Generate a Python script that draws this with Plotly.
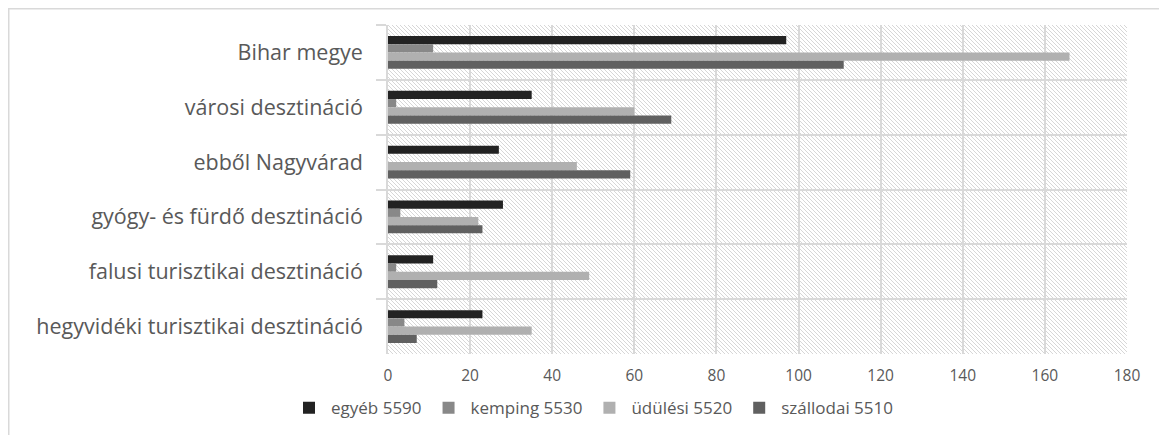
import base64
import plotly.graph_objects as go

categories = [
    "Bihar megye",
    "városi desztináció",
    "ebből Nagyvárad",
    "gyógy- és fürdő desztináció",
    "falusi turisztikai desztináció",
    "hegyvidéki turisztikai desztináció",
]
series_names = ["egyéb 5590", "kemping 5530", "üdülési 5520", "szállodai 5510"]
egyeb = [97, 35, 27, 28, 11, 23]
kemping = [11, 2, 0, 3, 2, 4]
udulesi = [166, 60, 46, 22, 49, 35]
szallodai = [111, 69, 59, 23, 12, 7]
x_ticks = [0, 20, 40, 60, 80, 100, 120, 140, 160, 180]

series_values = [egyeb, kemping, udulesi, szallodai]
colors = ["#222222", "#888888", "#b0b0b0", "#606060"]

# page body has an 8px margin; figure is sized to fit the window
W, H = 1159, 427
ML, MR, MT, MB = 380, 40, 17, 81
PW, PH = W - ML - MR, H - MT - MB

fig = go.Figure()
for name, vals, col in zip(series_names, series_values, colors):
    fig.add_trace(go.Bar(
        y=categories, x=vals, name=name, orientation="h",
        marker=dict(color=col, line=dict(width=0)),
    ))

svg = f'''<svg xmlns="http://www.w3.org/2000/svg" width="{PW}" height="{PH}" viewBox="0 0 {PW} {PH}" preserveAspectRatio="none">
<defs><pattern id="h" patternUnits="userSpaceOnUse" width="4" height="4">
<rect width="4" height="4" fill="#ffffff"/>
<path d="M-1,-1 L5,5 M-1,3 L1,5 M3,-1 L5,1" stroke="#d2d2d2" stroke-width="0.9"/>
</pattern></defs>
<rect width="{PW}" height="{PH}" fill="url(#h)"/></svg>'''
src = "data:image/svg+xml;base64," + base64.b64encode(svg.encode()).decode()

font_family = "'Open Sans', Lato, sans-serif"
fig.update_layout(
    width=W, height=H,
    margin=dict(l=ML, r=MR, t=MT, b=MB, autoexpand=False),
    paper_bgcolor="#ffffff",
    plot_bgcolor="rgba(0,0,0,0)",
    barmode="group",
    bargap=0.4,
    bargroupgap=0,
    font=dict(family=font_family, color="#595959"),
    showlegend=True,
    legend=dict(
        orientation="h", x=(279 - ML) / PW, xanchor="left",
        y=-0.165, yanchor="middle",
        font=dict(size=17, color="#595959"),
        itemwidth=34,
        traceorder="normal",
    ),
    images=[dict(
        source=src, xref="paper", yref="paper", x=0, y=1, sizex=1, sizey=1,
        xanchor="left", yanchor="top", sizing="stretch", layer="below",
    )],
    shapes=[
        dict(type="line", xref="paper", yref="paper",
             x0=(0 - ML) / PW, x1=(W - ML) / PW,
             y0=(H - MB - 0.75) / PH, y1=(H - MB - 0.75) / PH,
             line=dict(color="#d9d9d9", width=1.5)),
        dict(type="line", xref="paper", yref="paper",
             x0=(0.75 - ML) / PW, x1=(0.75 - ML) / PW,
             y0=(H - MB) / PH, y1=(-MB) / PH,
             line=dict(color="#d9d9d9", width=1.5)),
    ],
)
fig.update_xaxes(
    range=[0, 180], tickvals=x_ticks, showgrid=True, gridcolor="#d9d9d9",
    gridwidth=1.5, zeroline=False, showline=False, ticks="",
    tickfont=dict(size=15.5, color="#595959"), ticklabelstandoff=10,
    fixedrange=True,
)
fig.update_yaxes(
    autorange="reversed", type="category", tickson="boundaries",
    ticks="outside", ticklen=10, tickcolor="#d9d9d9", tickwidth=1.5,
    showgrid=True, gridcolor="#d9d9d9", gridwidth=1.5,
    showline=True, linecolor="#d9d9d9", linewidth=1.5,
    tickfont=dict(size=21.5, color="#595959"), ticklabelstandoff=19,
)

fig.write_html("out.html")
